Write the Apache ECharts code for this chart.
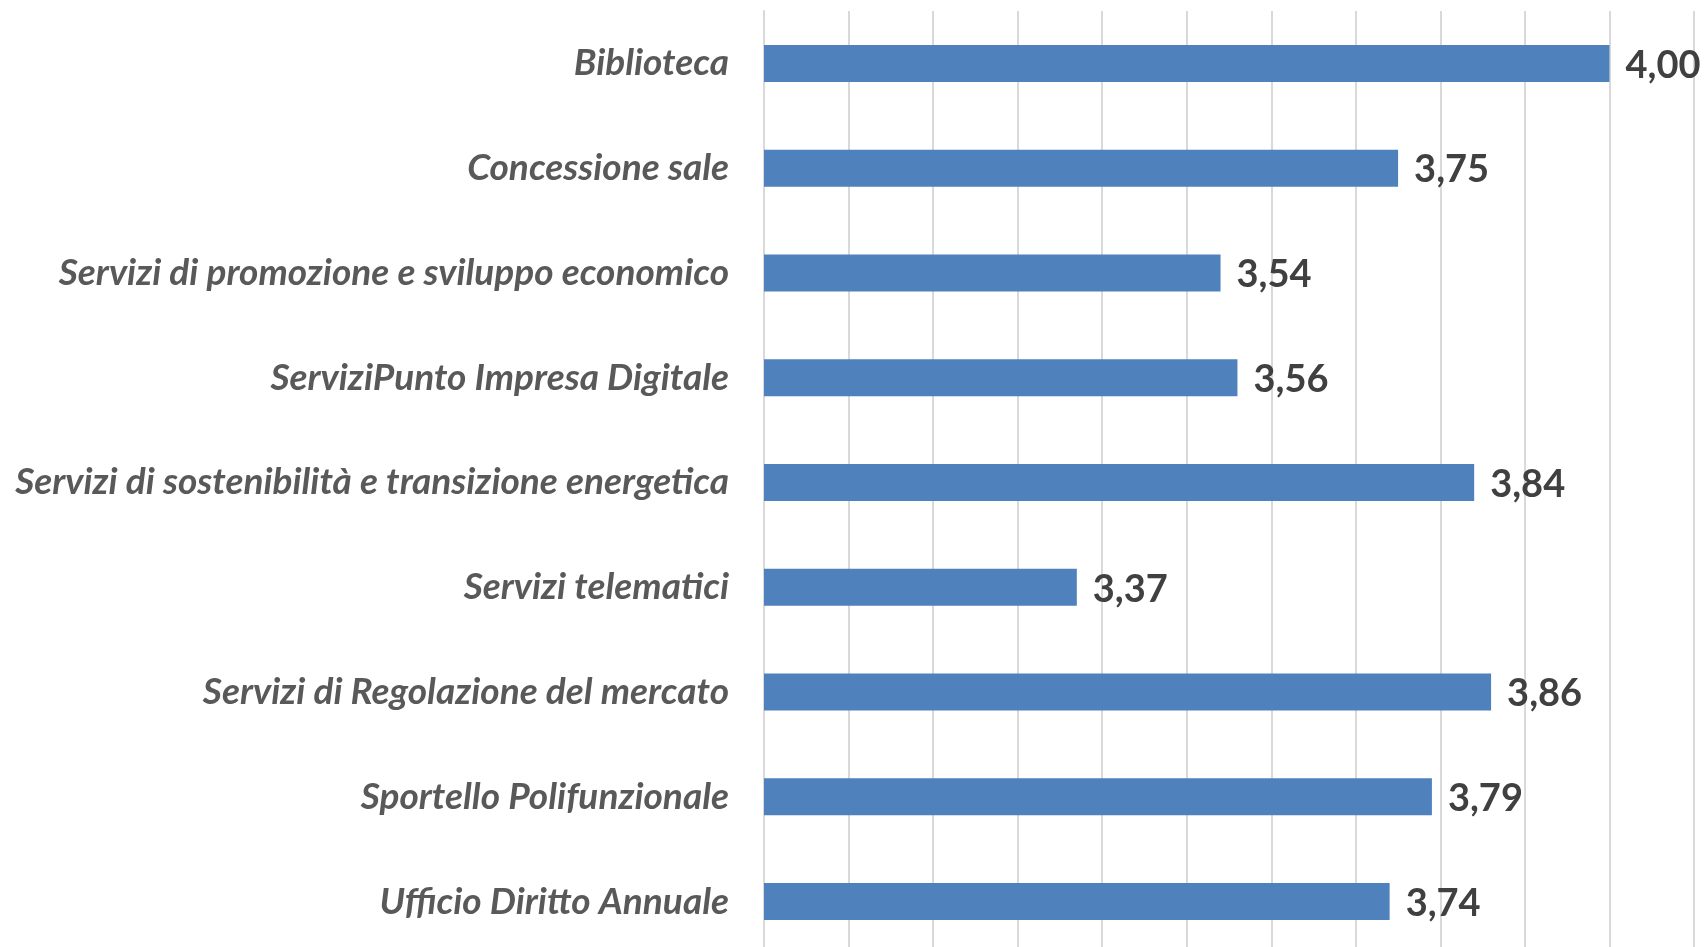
<!DOCTYPE html>
<html>
<head>
<meta charset="utf-8">
<script src="https://cdn.jsdelivr.net/npm/echarts@6/dist/echarts.min.js"></script>
<style>
html,body{margin:0;padding:0;background:#fff;overflow:hidden;width:1704px;height:947px;}
#chart{width:1704px;height:970px;}
</style>
</head>
<body>
<div id="chart"></div>
<script>
const categories = [
  "Biblioteca",
  "Concessione sale",
  "Servizi di promozione e sviluppo economico",
  "ServiziPunto Impresa Digitale",
  "Servizi di sostenibilità e transizione energetica",
  "Servizi telematici",
  "Servizi di Regolazione del mercato",
  "Sportello Polifunzionale",
  "Ufficio Diritto Annuale"
];
const values = [4.00, 3.75, 3.54, 3.56, 3.84, 3.37, 3.86, 3.79, 3.74];
const axisMin = 3.0;
const axisMax = 4.1;
const axisStep = 0.1;

const chart = echarts.init(document.getElementById('chart'), null, {renderer: 'canvas'});
chart.setOption({
  animation: false,
  backgroundColor: '#ffffff',
  grid: {left: 764, right: 10, top: 11, height: 943, containLabel: false},
  xAxis: {
    type: 'value',
    min: axisMin,
    max: axisMax,
    interval: axisStep,
    axisLabel: {show: false},
    axisLine: {show: false},
    axisTick: {show: false},
    splitLine: {show: true, lineStyle: {color: '#d9d9d9', width: 2}}
  },
  yAxis: {
    type: 'category',
    inverse: true,
    data: categories,
    axisLine: {show: true, lineStyle: {color: '#d9d9d9', width: 2}},
    axisTick: {show: false},
    axisLabel: {
      margin: 35,
      color: '#595959',
      fontFamily: 'Lato',
      fontStyle: 'italic',
      fontWeight: 'bold',
      fontSize: 37
    }
  },
  series: [{
    type: 'bar',
    data: values,
    barWidth: 37,
    itemStyle: {color: '#4f81bd'},
    label: {
      show: true,
      position: 'right',
      distance: 16,
      offset: [0, 2],
      color: '#404040',
      fontFamily: 'Lato',
      fontWeight: 'bold',
      fontSize: 38,
      formatter: p => p.value.toFixed(2).replace('.', ',')
    }
  }]
});
</script>
</body>
</html>
